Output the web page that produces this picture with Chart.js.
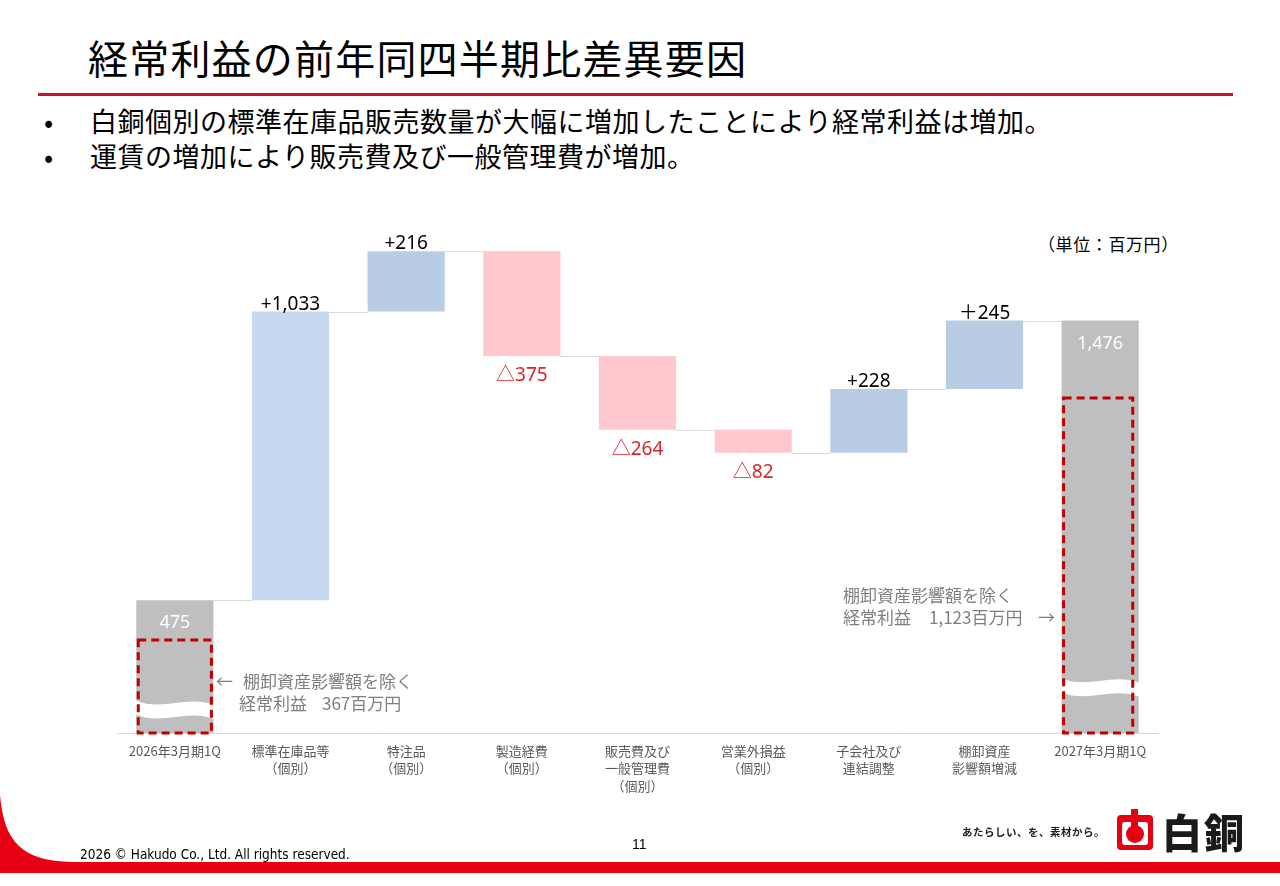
<!DOCTYPE html>
<html lang="ja">
<head>
<meta charset="utf-8">
<script src="https://cdn.jsdelivr.net/npm/chart.js@4.4.1/dist/chart.umd.min.js"></script>
<style>
  html, body { margin: 0; padding: 0; background: #fff; }
  body { width: 1280px; height: 886px; position: relative; overflow: hidden;
         font-family: "Noto Sans CJK JP", "Noto Sans", sans-serif; }
  .title { position: absolute; left: 88px; top: 30px; font-size: 40px; line-height: 54px;
           letter-spacing: 1.2px; color: #000; white-space: nowrap; }
  .rule { position: absolute; left: 38px; top: 93px; width: 1195px; height: 3px; background: #c4172c; }
  .bullet { position: absolute; left: 44px; font-size: 27px; line-height: 34px; color: #000; white-space: nowrap; letter-spacing: 0.5px; }
  .bullet span { display: inline-block; width: 46px; }
  .unit { position: absolute; left: 1038px; top: 231px; font-size: 17px; letter-spacing: 0.6px; color: #000; }
  .note { position: absolute; font-size: 17px; line-height: 22px; color: #7f7f7f; white-space: pre; }
  #wrap { position: absolute; left: 0; top: 200px; width: 1280px; height: 600px; }
  .copy { position: absolute; left: 80px; top: 846px; font-size: 13.5px; font-family: "Liberation Sans Narrow", "DejaVu Sans Condensed", sans-serif; color: #000; }
  .page { position: absolute; left: 632px; top: 836px; font-size: 14px; font-family: "Liberation Sans Narrow", sans-serif; }
  .tag { position: absolute; left: 962px; top: 824px; font-size: 10.5px; font-weight: bold; letter-spacing: 0.5px; color: #222; }
  .brand { position: absolute; left: 1162px; top: 806px; font-size: 40px; font-weight: 900; color: #1a1a1a; letter-spacing: 2px; line-height: 50px; }
</style>
</head>
<body>
<div class="title">経常利益の前年同四半期比差異要因</div>
<div class="rule"></div>
<div class="bullet" style="top:104px"><span>•</span>白銅個別の標準在庫品販売数量が大幅に増加したことにより経常利益は増加。</div>
<div class="bullet" style="top:139px"><span>•</span>運賃の増加により販売費及び一般管理費が増加。</div>
<div class="unit">（単位：百万円）</div>

<div id="wrap"><canvas id="chart"></canvas></div>

<div class="note" style="left:216px; top:670px">←</div>
<div class="note" style="left:243px; top:670px">棚卸資産影響額を除く</div>
<div class="note" style="left:239px; top:692px">経常利益</div>
<div class="note" style="left:322px; top:692px">367百万円</div>
<div class="note" style="left:843px; top:584px">棚卸資産影響額を除く</div>
<div class="note" style="left:843px; top:606px">経常利益</div>
<div class="note" style="left:929px; top:606px">1,123百万円</div>
<div class="note" style="left:1038px; top:606px">→</div>

<svg style="position:absolute;left:0;top:0" width="1280" height="886">
  <path d="M0,795 C4,842 22,861 72,862 L1280,862 L1280,873 L0,873 Z" fill="#e60012"/>
  <rect x="1117" y="815" width="36" height="35" rx="4" fill="#e60012"/>
  <rect x="1122" y="822" width="26" height="23" rx="3" fill="#fff"/>
  <circle cx="1135" cy="834" r="9" fill="#e60012"/>
  <rect x="1131" y="809" width="7" height="18" fill="#e60012"/>
</svg>
<div class="copy">2026 © Hakudo Co., Ltd. All rights reserved.</div>
<div class="page">11</div>
<div class="tag">あたらしい、を、素材から。</div>
<div class="brand">白銅</div>

<script>
const categories = [
  ["2026年3月期1Q"],
  ["標準在庫品等", "（個別）"],
  ["特注品", "（個別）"],
  ["製造経費", "（個別）"],
  ["販売費及び", "一般管理費", "（個別）"],
  ["営業外損益", "（個別）"],
  ["子会社及び", "連結調整"],
  ["棚卸資産", "影響額増減"],
  ["2027年3月期1Q"]
];
const startValue = 475;
const changes = [1033, 216, -375, -264, -82, 228, 245];
const endValue = 1476;
const changeLabels = ["+1,033", "+216", "△375", "△264", "△82", "+228", "＋245"];
const totalLabels = ["475", "1,476"];
const adjustedValues = [367, 1123]; // 棚卸資産影響額を除く

// visual-only bits: where the wavy break sits and the dashed box tops (axis units)
const breakAt = { 0: 89, 8: 168 };
const boxTop = { 0: 333, 8: 1199 };

// build floating bars
const ranges = [];
const colors = [];
let level = startValue;
ranges.push([0, startValue]);
colors.push("#bfbfbf");
changes.forEach((c, i) => {
  ranges.push([level, level + c]);
  colors.push(c < 0 ? "#ffc7ce" : (i === 0 ? "#c6d9f0" : "#b8cce4"));
  level += c;
});
ranges.push([0, endValue]);
colors.push("#bfbfbf");

const waterfallExtras = {
  id: "waterfallExtras",
  afterDatasetsDraw(chart) {
    const ctx = chart.ctx;
    const bars = chart.getDatasetMeta(0).data;
    const y = chart.scales.y;

    // connectors
    ctx.save();
    ctx.strokeStyle = "#d9d9d9";
    ctx.lineWidth = 1;
    for (let i = 0; i < bars.length - 1; i++) {
      const lvl = ranges[i][1];
      const py = Math.round(y.getPixelForValue(lvl)) + 0.5;
      ctx.beginPath();
      ctx.moveTo(bars[i].x + bars[i].width / 2, py);
      ctx.lineTo(bars[i + 1].x - bars[i + 1].width / 2, py);
      ctx.stroke();
    }
    ctx.restore();

    // wavy breaks and dashed boxes on the two totals
    [0, bars.length - 1].forEach((idx) => {
      const b = bars[idx];
      const L = b.x - b.width / 2 - 1, R = b.x + b.width / 2 + 1, w = R - L;
      const yc = y.getPixelForValue(breakAt[idx]);
      const t = yc - 8, h = 14;
      ctx.save();
      ctx.fillStyle = "#fff";
      ctx.beginPath();
      ctx.moveTo(L, t);
      ctx.bezierCurveTo(L + w * 0.35, t + 12, L + w * 0.65, t - 6, R, t + 5);
      ctx.lineTo(R, t + 5 + h);
      ctx.bezierCurveTo(L + w * 0.65, t - 6 + h, L + w * 0.35, t + 12 + h, L, t + h);
      ctx.closePath();
      ctx.fill();

      const bx1 = b.x - b.width / 2 + 2, bx2 = b.x + b.width / 2 - (idx === 0 ? 2 : 6);
      const by1 = y.getPixelForValue(boxTop[idx]), by2 = y.getPixelForValue(0);
      ctx.strokeStyle = "#c00000";
      ctx.lineWidth = 3;
      ctx.setLineDash([8, 5]);
      ctx.strokeRect(bx1, by1, bx2 - bx1, by2 - by1);
      ctx.restore();
    });

    // value labels
    ctx.save();
    ctx.textAlign = "center";
    bars.forEach((b, i) => {
      const top = Math.min(b.y, b.base), bottom = Math.max(b.y, b.base);
      if (i === 0 || i === bars.length - 1) {
        ctx.font = "18px 'Noto Sans', sans-serif";
        ctx.fillStyle = "#fff";
        ctx.textBaseline = "middle";
        ctx.fillText(totalLabels[i === 0 ? 0 : 1], b.x, top + 23);
      } else {
        const c = changes[i - 1];
        ctx.font = "19px 'Noto Sans', 'Noto Sans CJK JP', sans-serif";
        if (c >= 0) {
          ctx.fillStyle = "#000";
          ctx.textBaseline = "alphabetic";
          ctx.fillText(changeLabels[i - 1], b.x, top - 2);
        } else {
          ctx.fillStyle = "#d9262b";
          ctx.textBaseline = "middle";
          ctx.fillText(changeLabels[i - 1], b.x, bottom + 20);
        }
      }
    });
    ctx.restore();
  }
};

new Chart(document.getElementById("chart"), {
  type: "bar",
  data: {
    labels: categories,
    datasets: [{
      data: ranges,
      backgroundColor: colors,
      borderWidth: 0,
      categoryPercentage: 1,
      barPercentage: 0.667
    }]
  },
  options: {
    responsive: true,
    maintainAspectRatio: false,
    animation: false,
    layout: { padding: { left: 117, right: 122, top: 30, bottom: 0 } },
    plugins: { legend: { display: false }, tooltip: { enabled: false } },
    scales: {
      x: {
        grid: { display: false, drawTicks: false },
        border: { display: true, color: "#d9d9d9", width: 1 },
        ticks: {
          color: "#595959",
          padding: 9,
          maxRotation: 0,
          autoSkip: false,
          font: { family: "'Noto Sans CJK JP', sans-serif", size: 13, lineHeight: 1.35 }
        },
        afterFit(scale) { scale.height = 67; }
      },
      y: { display: false, min: 0, max: 1800 }
    }
  },
  plugins: [waterfallExtras]
});
</script>
</body>
</html>
